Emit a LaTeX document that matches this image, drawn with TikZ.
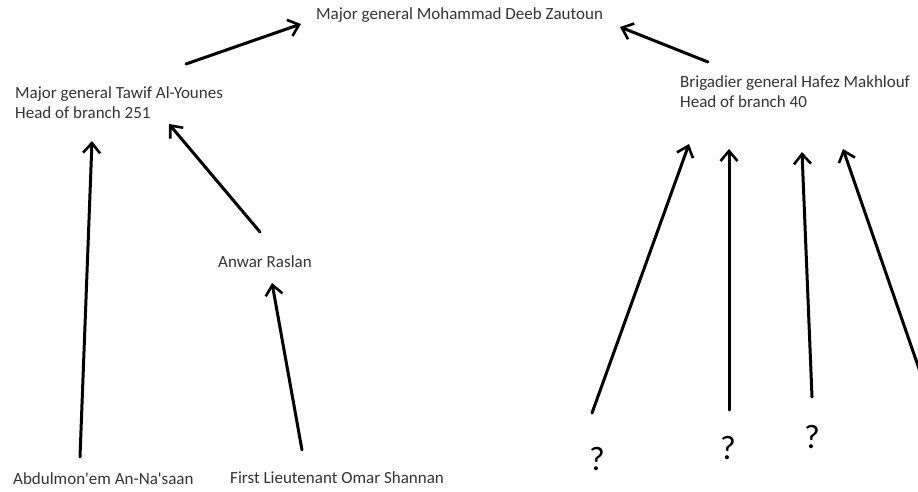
\documentclass[tikz,border=0pt]{standalone}
\usepackage{fontspec}
\setmainfont{Carlito}[Ligatures=TeXOff]
\usetikzlibrary{arrows.meta}

\begin{document}
\begin{tikzpicture}[x=1pt, y=-1pt,
  every node/.style={inner sep=0pt, anchor=west, text=black!80, font=\fontsize{17}{20}\selectfont, align=left},
  arr/.style={black, line width=3pt, line cap=round, -{Straight Barb[length=10pt, width=17pt, line width=2.6pt]}},
  qmark/.style={font=\fontsize{34}{34}\selectfont, text=black, anchor=center}]
\useasboundingbox (0,0) rectangle (918,492);
\node (zautoun) at (316,15) {Major general Mohammad Deeb Zautoun};
\node (younes) at (15,103) {Major general Tawif Al-Younes\\Head of branch 251};
\node (makhlouf) at (680,92) {Brigadier general Hafez Makhlouf\\Head of branch 40};
\node (raslan) at (218,262) {Anwar Raslan};
\node (nasaan) at (13,479) {Abdulmon'em An-Na'saan};
\node (shannan) at (230,478) {First Lieutenant Omar Shannan};
\node[qmark] (q1) at (597,459) {?};
\node[qmark] (q2) at (728,448) {?};
\node[qmark] (q3) at (812,437) {?};
% free ends of the hand drawn arrows
\coordinate (y1) at (186,64);    \coordinate (z1) at (301,24);
\coordinate (m1) at (708,62);    \coordinate (z2) at (620,27);
\coordinate (n1) at (80,457);    \coordinate (y2) at (92,141);
\coordinate (r1) at (260,232);   \coordinate (y3) at (169,124);
\coordinate (s1) at (302,450);   \coordinate (r2) at (272,283);
\coordinate (a1) at (592,413);   \coordinate (m2) at (689,144);
\coordinate (b1) at (729,410);   \coordinate (m3) at (729,149);
\coordinate (c1) at (812,397);   \coordinate (m4) at (802,152);
\coordinate (d1) at (925,386);   \coordinate (m5) at (843,149);
\draw[arr] (y1) -- (z1);
\draw[arr] (m1) -- (z2);
\draw[arr] (n1) -- (y2);
\draw[arr] (r1) -- (y3);
\draw[arr] (s1) -- (r2);
\draw[arr] (a1) -- (m2);
\draw[arr] (b1) -- (m3);
\draw[arr] (c1) -- (m4);
\draw[arr] (d1) -- (m5);
\end{tikzpicture}
\end{document}
